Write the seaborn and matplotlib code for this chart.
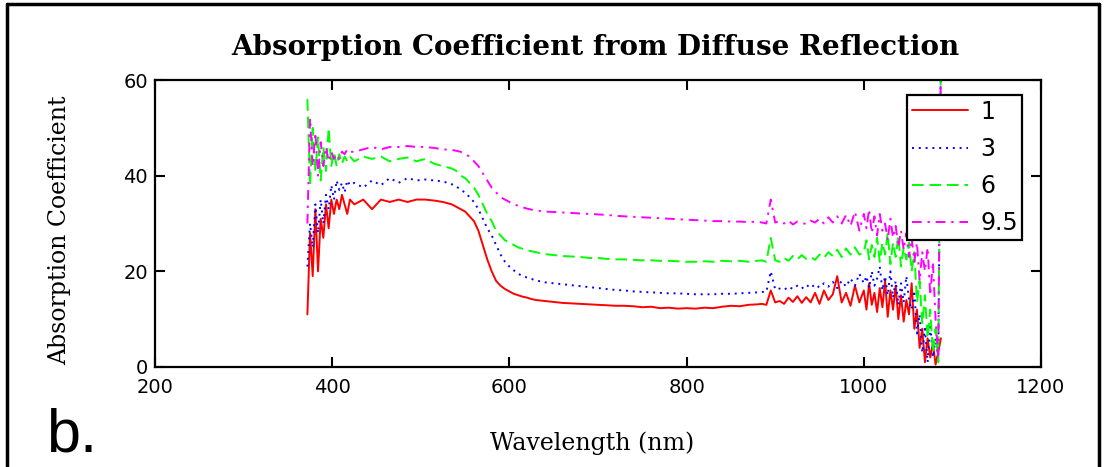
import matplotlib
matplotlib.use("Agg")
import matplotlib.pyplot as plt
import pandas as pd
import seaborn as sns
from matplotlib.lines import Line2D

# ---------------- data ----------------
wavelength = [
    372, 375, 378, 381, 384, 387, 390, 393, 396, 399, 402, 405, 408, 411, 414, 417, 420,
    425, 435, 445, 455, 465, 475, 485, 495, 505, 515, 525, 535,
    540, 545, 550, 555, 560, 565, 570, 575, 580, 585, 590, 595, 600, 605, 610, 615, 620,
    625, 630, 635, 640,
    650, 660, 670, 680, 690, 700, 710, 720, 730, 740, 750, 760, 770, 780, 790, 800, 810,
    820, 830, 840, 850, 860, 870, 880,
    885, 890, 895, 900, 905, 910, 915, 920, 925, 930, 935, 940, 945, 950, 955, 960, 965,
    970, 975, 980, 985, 990, 995, 1000,
    1003, 1006, 1009, 1012, 1015, 1018, 1021, 1024, 1027, 1030, 1033, 1036, 1039, 1042,
    1045, 1048, 1051, 1054, 1057, 1060, 1063, 1066, 1069, 1072, 1075, 1078, 1081, 1084, 1087,
]

k_1 = [
    11, 28, 19, 33, 20, 31, 27, 34, 29, 35, 32, 35, 33, 36, 34, 32, 35,
    34, 35, 33, 35, 34.5, 35, 34.5, 35, 35, 34.8, 34.5, 34,
    33.5, 33, 32.5, 31.5, 30.5, 28.5, 25.5, 22.5, 20, 18, 17, 16.3, 15.8, 15.3, 15, 14.7, 14.5,
    14.2, 14, 13.9, 13.8,
    13.6, 13.4, 13.3, 13.2, 13.1, 13, 12.9, 12.8, 12.8, 12.7, 12.5, 12.6, 12.3, 12.4, 12.2, 12.3, 12.2,
    12.4, 12.3, 12.6, 12.8, 12.7, 13, 13.1,
    13.2, 13, 16, 13.5, 13.8, 13.2, 14.5, 13.6, 14.8, 13.4, 14.6, 13.5, 15.5, 13.2, 16, 14, 15.2,
    19, 13.5, 15.5, 12.8, 17, 13.5, 16,
    12, 17.5, 13, 15.5, 11.5, 16.5, 12.5, 18, 10.5, 16, 12, 17, 10, 15,
    9.5, 14, 11, 17.5, 8, 12, 4, 8, 1, 6, 2, 5, 0.5, 3, 6,
]

k_3 = [
    21, 30, 25, 34, 28, 35, 30, 36, 33, 38, 35, 39, 37, 38.5, 36.5, 39, 38,
    38.5, 37.5, 39, 38, 39.5, 38.5, 39.5, 39, 39.2, 39, 38.8, 38.2,
    37.8, 37, 36.5, 35.5, 34.5, 33, 31, 29, 27.5, 25.5, 23.5, 22, 21, 20.2, 19.5, 19, 18.7,
    18.4, 18.1, 17.9, 17.7,
    17.5, 17.3, 17.1, 16.9, 16.7, 16.5, 16.3, 16.1, 16, 15.8, 15.7, 15.6, 15.5, 15.4, 15.4, 15.3, 15.2,
    15.2, 15.2, 15.3, 15.3, 15.4, 15.5, 15.6,
    15.7, 15.7, 20, 16.2, 16.4, 16.1, 16.8, 16.3, 17, 16.4, 17.2, 16.5, 17.3, 16.6, 17.5, 16.8, 17.8,
    16.5, 18, 16.8, 18.5, 17, 19.5, 17.5,
    19, 16.5, 20, 17, 18.5, 21, 16, 19, 15, 20, 14.5, 18, 13, 17.5,
    13.5, 19, 14, 12, 16, 7, 11, 3, 8, 1, 9, 2, 6, 1, 65,
]

k_6 = [
    56, 38, 50, 41, 48, 39, 46, 41, 50, 42, 45, 42, 44.5, 42.5, 44, 43, 44,
    43, 44, 43.5, 44, 43, 43.5, 43.8, 43, 43.5, 42.5, 42, 41.5,
    41, 40, 39.5, 38.5, 37.5, 36, 34, 32, 30.5, 28.5, 27.5, 26.5, 26, 25.5, 25, 24.7, 24.4,
    24.2, 24, 23.8, 23.6,
    23.4, 23.2, 23.1, 23, 22.8, 22.8, 22.6, 22.5, 22.5, 22.4, 22.3, 22.3, 22.2, 22.2, 22.1, 22, 22,
    22.1, 22, 22.2, 22.1, 22.2, 22, 22.2,
    22.3, 22, 27, 22.3, 22, 22.8, 22.2, 23.2, 22.5, 23.4, 22.6, 23, 22.4, 23.5, 22.8, 24, 23.2,
    24.5, 23, 24.8, 23.5, 25, 23.5, 24,
    26.5, 22.5, 25.5, 23, 27, 22, 26, 23.5, 28, 21.5, 26, 23, 27.5, 21,
    25, 22.5, 26, 20, 24, 13.5, 18, 9, 15, 6, 12, 3, 8, 1, 65,
]

k_9_5 = [
    30, 52, 42, 49, 40, 47, 42, 46, 43, 45, 43.5, 44.5, 43.5, 45, 44.5, 45.5, 45,
    45, 45.5, 46, 45.5, 46, 46, 46.2, 46, 46, 45.8, 45.5, 45.4,
    45.2, 45, 44.5, 44, 43, 42, 40.5, 39, 37.5, 36.5, 35.5, 35, 34.5, 34, 33.7, 33.4, 33.1,
    32.9, 32.8, 32.6, 32.5,
    32.4, 32.3, 32.2, 32.1, 32, 31.9, 31.8, 31.6, 31.5, 31.4, 31.3, 31.2, 31.1, 31, 30.9, 30.8, 30.7,
    30.6, 30.5, 30.5, 30.4, 30.4, 30.3, 30.4,
    30.2, 30, 35, 30.2, 30.5, 30, 30.6, 29.8, 30.4, 30.1, 29.9, 30.6, 30.2, 31, 30, 31.3, 30.2,
    31.5, 30, 31.8, 29.5, 32.5, 28.5, 32,
    29, 33, 28, 31.5, 27.5, 32, 28.5, 30, 26.5, 31, 27, 29.5, 25, 28.5,
    24.5, 28, 23, 27, 22, 26, 18, 24, 20, 25, 15, 22, 10, 2, 65,
]

series_labels = ["1", "3", "6", "9.5"]
series_colors = ["#ff0000", "#0000ff", "#00ff00", "#ff00ff"]
x_ticks = [200, 400, 600, 800, 1000, 1200]
y_ticks = [0, 20, 40, 60]

# ---------------- figure ----------------
sns.set_style("ticks")
plt.rcParams["font.family"] = ["DejaVu Serif", "DejaVu Sans"]
plt.rcParams["text.color"] = "black"
plt.rcParams["axes.labelcolor"] = "black"

df = pd.concat(
    [pd.DataFrame({"wl": wavelength, "val": v, "series": lab})
     for v, lab in zip([k_1, k_3, k_6, k_9_5], series_labels)],
    ignore_index=True,
)

W, H = 1106, 467
fig = plt.figure(figsize=(W / 100, H / 100), dpi=100)
ax = fig.add_axes([155 / W, 1 - 367 / H, 886 / W, 287 / H])

palette = dict(zip(series_labels, series_colors))
dashes = {"1": "", "3": (1, 2.5), "6": (6, 3), "9.5": (5, 3, 1.2, 3)}
sns.lineplot(data=df, x="wl", y="val", hue="series", style="series",
             hue_order=series_labels, style_order=series_labels,
             palette=palette, dashes=dashes, estimator=None, sort=False,
             linewidth=1.4, ax=ax)

ax.set_xlim(200, 1200)
ax.set_ylim(0, 60)
ax.set_xticks(x_ticks)
ax.set_yticks(y_ticks)
ax.tick_params(direction="in", length=7, width=1.5, top=True, right=True,
               labelsize=14, colors="black")
ax.tick_params(axis="x", pad=8)
ax.tick_params(axis="y", pad=5)
for lab in ax.get_xticklabels() + ax.get_yticklabels():
    lab.set_family("DejaVu Sans")
for s in ax.spines.values():
    s.set_linewidth(1.6)
    s.set_color("black")
ax.set_xlabel("")
ax.set_ylabel("")

sns.move_legend(ax, "upper right", bbox_to_anchor=(0.979, 0.948), title=None,
                frameon=True, fancybox=False, shadow=False, borderaxespad=0,
                prop={"family": "DejaVu Sans", "size": 17}, handlelength=2.4,
                labelspacing=0.56, borderpad=0.2, handletextpad=0.5)
leg = ax.get_legend()
leg.get_frame().set_edgecolor("black")
leg.get_frame().set_linewidth(1.6)
leg.get_frame().set_alpha(1)

fig.text(595 / W, 1 - 55 / H, "Absorption Coefficient from Diffuse Reflection",
         ha="center", va="baseline", fontsize=20, fontweight="bold")
fig.text(592 / W, 1 - 450 / H, "Wavelength (nm)", ha="center", va="baseline",
         fontsize=17)
fig.text(60 / W, 1 - 230 / H, "Absorption Coefficient", ha="center", va="center",
         rotation=90, fontsize=17)
fig.text(46 / W, 1 - 452 / H, "b.", ha="left", va="baseline", fontsize=44,
         family="Liberation Sans")

# outer frame (top, left, right)
for xs, ys in [((7 / W, 7 / W), (0, 1 - 4 / H)),
               ((1099 / W, 1099 / W), (0, 1 - 4 / H)),
               ((7 / W, 1099 / W), (1 - 4 / H, 1 - 4 / H))]:
    fig.add_artist(Line2D(xs, ys, color="black", lw=2.5, transform=fig.transFigure))

fig.savefig("out.png", dpi=100)
